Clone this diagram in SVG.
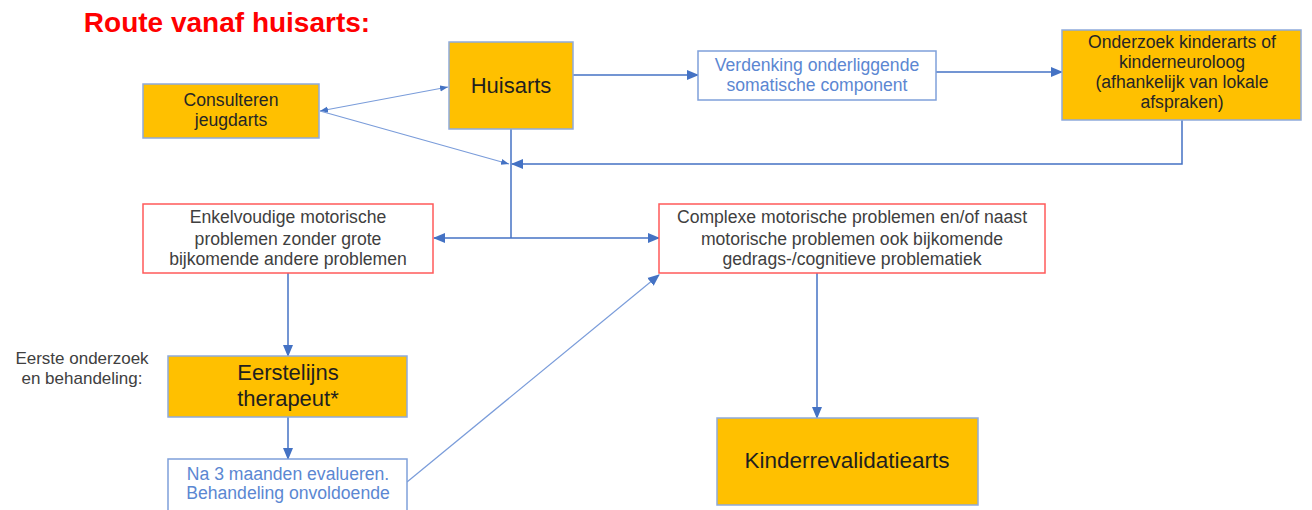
<svg xmlns="http://www.w3.org/2000/svg" width="1312" height="510" viewBox="0 0 1312 510">
<style>
  .orange { fill: #FFC000; stroke: #8FAADC; stroke-width: 1.5; }
  .bluebox { fill: #FFFFFF; stroke: #7FA0DA; stroke-width: 1.5; }
  .redbox { fill: #FFFFFF; stroke: #FF5A5A; stroke-width: 1.5; }
  text { font-family: "Liberation Sans", Arial, sans-serif; text-anchor: middle; }
  .t-dark { fill: #262626; font-size: 17.6px; }
  .t-big { fill: #1F1F1F; font-size: 22px; }
  .t-gray { fill: #404040; font-size: 17.6px; }
  .t-blue { fill: #5B87D2; font-size: 17.6px; }
  .conn { fill: none; stroke: #4472C4; stroke-width: 1.5; }
  .thin { fill: none; stroke: #7A9CDA; stroke-width: 1.2; }
</style>
<defs>
  <marker id="arr" markerUnits="userSpaceOnUse" markerWidth="12" markerHeight="12" viewBox="0 0 12 12" refX="11" refY="6" orient="auto-start-reverse">
    <path d="M0,1 L12,6 L0,11 Z" fill="#4472C4"/>
  </marker>
  <marker id="sarr" markerUnits="userSpaceOnUse" markerWidth="8" markerHeight="8" viewBox="0 0 8 8" refX="8" refY="4" orient="auto-start-reverse">
    <path d="M0,1 L8,4 L0,7 Z" fill="#4472C4"/>
  </marker>
</defs>

<text x="227" y="32" style="font-size:28px;font-weight:bold;fill:#FF0000">Route vanaf huisarts:</text>

<g id="connectors">
  <path class="thin" d="M320,111 L448,87" marker-start="url(#sarr)" marker-end="url(#sarr)"/>
  <path class="thin" d="M320,111 L509,164" marker-end="url(#sarr)"/>
  <path class="conn" d="M573,75 H698" marker-end="url(#arr)"/>
  <path class="conn" d="M936,72 H1062" marker-end="url(#arr)"/>
  <path class="conn" d="M1182,120 V164 H512" marker-end="url(#arr)"/>
  <path class="conn" d="M511,129 V238"/>
  <path class="conn" d="M511,238 H434" marker-end="url(#arr)"/>
  <path class="conn" d="M511,238 H659" marker-end="url(#arr)"/>
  <path class="conn" d="M288,273 V356" marker-end="url(#arr)"/>
  <path class="conn" d="M288,417 V459" marker-end="url(#arr)"/>
  <path class="thin" d="M407,482 L659,275" marker-end="url(#arr)"/>
  <path class="conn" d="M817,273 V418" marker-end="url(#arr)"/>
</g>

<g id="consulteren">
  <rect class="orange" x="143" y="84" width="176" height="54"/>
  <text class="t-dark" x="231" y="106">Consulteren</text>
  <text class="t-dark" x="231" y="126">jeugdarts</text>
</g>

<g id="huisarts">
  <rect class="orange" x="449" y="42" width="124" height="87"/>
  <text class="t-big" x="511" y="93">Huisarts</text>
</g>

<g id="verdenking">
  <rect class="bluebox" x="698" y="51" width="238" height="49"/>
  <text class="t-blue" x="817" y="71">Verdenking onderliggende</text>
  <text class="t-blue" x="817" y="91">somatische component</text>
</g>

<g id="onderzoek">
  <rect class="orange" x="1062" y="30" width="239" height="90"/>
  <text class="t-dark" x="1182" y="48">Onderzoek kinderarts of</text>
  <text class="t-dark" x="1182" y="68">kinderneuroloog</text>
  <text class="t-dark" x="1182" y="88">(afhankelijk van lokale</text>
  <text class="t-dark" x="1182" y="108">afspraken)</text>
</g>

<g id="enkelvoudig">
  <rect class="redbox" x="143" y="204" width="290" height="69"/>
  <text class="t-gray" x="288" y="223">Enkelvoudige motorische</text>
  <text class="t-gray" x="288" y="245">problemen zonder grote</text>
  <text class="t-gray" x="288" y="265">bijkomende andere problemen</text>
</g>

<g id="complex">
  <rect class="redbox" x="659" y="204" width="386" height="69"/>
  <text class="t-gray" x="852" y="223">Complexe motorische problemen en/of naast</text>
  <text class="t-gray" x="852" y="245">motorische problemen ook bijkomende</text>
  <text class="t-gray" x="852" y="265">gedrags-/cognitieve problematiek</text>
</g>

<g id="label-eerste">
  <text class="t-gray" x="82" y="364" style="font-size:17px">Eerste onderzoek</text>
  <text class="t-gray" x="82" y="384" style="font-size:17px">en behandeling:</text>
</g>

<g id="eerstelijns">
  <rect class="orange" x="168" y="356" width="239" height="61"/>
  <text class="t-big" x="288" y="380">Eerstelijns</text>
  <text class="t-big" x="288" y="406">therapeut*</text>
</g>

<g id="evalueren">
  <rect class="bluebox" x="168" y="459" width="239" height="70"/>
  <text class="t-blue" x="288" y="480">Na 3 maanden evalueren.</text>
  <text class="t-blue" x="288" y="499">Behandeling onvoldoende</text>
</g>

<g id="kinderrevalidatie">
  <rect class="orange" x="717" y="418" width="261" height="87"/>
  <text class="t-big" x="847" y="468" style="font-size:22.5px">Kinderrevalidatiearts</text>
</g>
</svg>
